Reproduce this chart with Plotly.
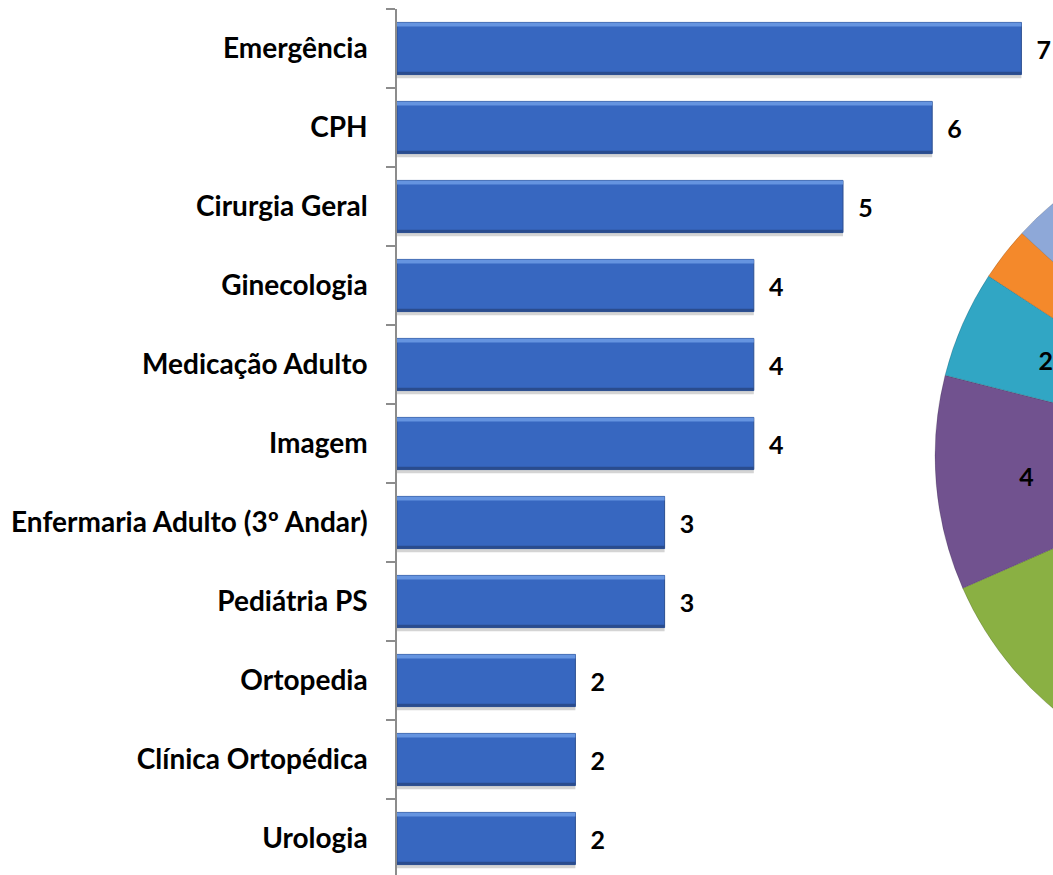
import plotly.graph_objects as go

# Occurrences per sector (horizontal bars, largest first)
setores = [
    "Emergência",
    "CPH",
    "Cirurgia Geral",
    "Ginecologia",
    "Medicação Adulto",
    "Imagem",
    "Enfermaria Adulto (3º Andar)",
    "Pediátria PS",
    "Ortopedia",
    "Clínica Ortopédica",
    "Urologia",
]
ocorrencias = [7, 6, 5, 4, 4, 4, 3, 3, 2, 2, 2]

# Grouped totals shown in the pie on the right
grupos = ["Grupo 1", "Grupo 2", "Grupo 3", "Grupo 4", "Grupo 5", "Grupo 6", "Grupo 7"]
grupos_valores = [11, 8, 7, 4, 2, 1, 5]
grupos_cores = ["#4F81BD", "#C0504D", "#8AB043", "#71528F", "#31A6C4", "#F4892B", "#8EA8D8"]

W, H = 1600, 875
AXIS_X = 397          # pixel position of the value-axis origin
PX_PER_UNIT = 89.2
X_MAX = 8
TOP = 9               # pixel of the first category boundary
ROW = 79.0            # pixel height of one category row
BAR_W = 0.66          # bar thickness in category units

PIE_CX, PIE_CY, PIE_R = 1264, 456, 329   # pie centre / radius in pixels
LABEL_R = 277                              # radius of the label ring

LABEL_FONT = dict(family="Lato", size=25, color="black", weight="bold")


def pie_domain(cx, cy, r):
    return dict(x=[(cx - r) / W, (cx + r) / W], y=[(H - cy - r) / H, (H - cy + r) / H])


fig = go.Figure()

# soft shadow under each bar
fig.add_trace(go.Bar(
    y=setores, x=ocorrencias, orientation="h",
    offset=BAR_W / 2, width=0.045,
    marker=dict(color="#D4D4D4", line=dict(width=0)),
    hoverinfo="skip", showlegend=False,
))

# main bar body
fig.add_trace(go.Bar(
    y=setores, x=ocorrencias, orientation="h",
    offset=-BAR_W / 2, width=BAR_W,
    marker=dict(color="#3767C0", line=dict(color="#2C4F90", width=1)),
    texttemplate="\u00a0\u00a0%{x}",
    textposition="outside",
    textfont=LABEL_FONT,
    cliponaxis=False,
    hoverinfo="y+x",
    showlegend=False,
))

# bevel: light top edge and dark bottom edge
fig.add_trace(go.Bar(
    y=setores, x=ocorrencias, orientation="h",
    offset=-BAR_W / 2, width=0.05,
    marker=dict(color="#6594E0", line=dict(width=0)),
    hoverinfo="skip", showlegend=False,
))
fig.add_trace(go.Bar(
    y=setores, x=ocorrencias, orientation="h",
    offset=BAR_W / 2 - 0.035, width=0.035,
    marker=dict(color="#2A4C8E", line=dict(width=0)),
    hoverinfo="skip", showlegend=False,
))

# pie wedges
fig.add_trace(go.Pie(
    labels=grupos,
    values=grupos_valores,
    sort=False,
    direction="clockwise",
    rotation=0,
    marker=dict(colors=grupos_cores, line=dict(color="rgba(0,0,0,0.15)", width=1)),
    textinfo="none",
    domain=pie_domain(PIE_CX, PIE_CY, PIE_R),
    showlegend=False,
))

# value labels of the pie, laid out on a ring inside the wedges
fig.add_trace(go.Pie(
    labels=grupos,
    values=grupos_valores,
    sort=False,
    direction="clockwise",
    rotation=0,
    hole=0.72,
    marker=dict(colors=["rgba(0,0,0,0)"] * len(grupos), line=dict(width=0)),
    textinfo="value",
    textposition="inside",
    insidetextorientation="horizontal",
    textfont=LABEL_FONT,
    hoverinfo="skip",
    domain=pie_domain(PIE_CX, PIE_CY, LABEL_R),
    showlegend=False,
))

fig.update_layout(
    width=W,
    height=H,
    margin=dict(l=0, r=0, t=0, b=0),
    paper_bgcolor="white",
    plot_bgcolor="white",
    template="none",
    barmode="overlay",
    showlegend=False,
    xaxis=dict(
        domain=[AXIS_X / W, (AXIS_X + PX_PER_UNIT * X_MAX) / W],
        range=[0, X_MAX],
        visible=False,
        showgrid=False,
        zeroline=False,
        automargin=False,
    ),
    yaxis=dict(
        domain=[0, (H - TOP) / H],
        type="category",
        categoryorder="array",
        categoryarray=setores,
        range=[-0.5 + (H - TOP) / ROW, -0.5],
        showline=True,
        linecolor="#8C8C8C",
        linewidth=1.5,
        ticks="outside",
        tickson="boundaries",
        ticklen=9,
        tickwidth=1.5,
        tickcolor="#8C8C8C",
        showgrid=False,
        zeroline=False,
        automargin=False,
        ticklabelstandoff=22,
        tickfont=dict(family="Lato", size=28, color="black", weight="bold"),
    ),
)

fig.write_html(
    "out.html",
    post_script="document.body.style.margin='0';"
                "document.body.style.overflow='hidden';"
                "document.documentElement.style.overflow='hidden';",
)
